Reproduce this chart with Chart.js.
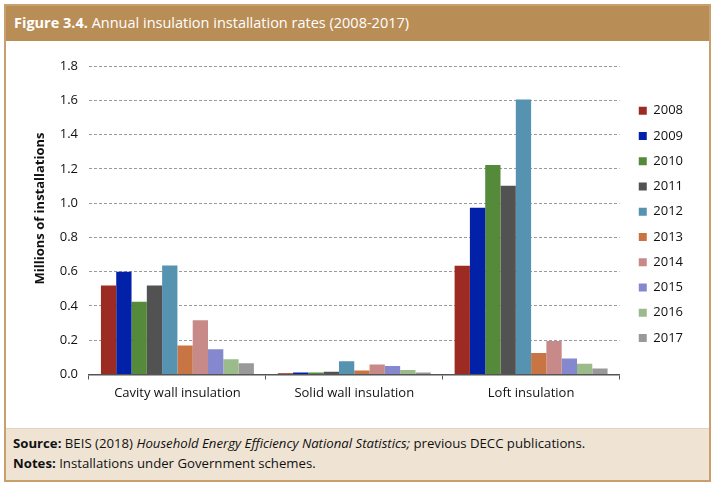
<!DOCTYPE html>
<html>
<head>
<meta charset="utf-8">
<script src="https://cdn.jsdelivr.net/npm/chart.js@4.4.1/dist/chart.umd.min.js"></script>
<style>
  html, body { margin: 0; padding: 0; background: #fff; width: 714px; height: 485px; overflow: hidden; font-family: "Open Sans", sans-serif; }
  #frame { position: absolute; left: 4px; top: 4px; width: 703px; height: 474px; border: 2px solid #C9A06B; background: #fff; }
  #header { position: absolute; left: 0; top: 0; width: 703px; height: 35px; background: #B98D56; color: #fff; font-size: 14.5px; line-height: 34px; padding-left: 8px; box-sizing: border-box; }
  #header b { font-weight: 700; }
  #footer { position: absolute; left: 0; top: 422px; width: 703px; height: 52px; background: #EFE4D4; border-top: 1px solid #E3D3BC; font-size: 13.2px; color: #111; padding: 4px 0 0 7px; box-sizing: border-box; line-height: 20px; }
  #footer b { font-weight: 700; }
  #wrap { position: absolute; left: 8px; top: 46px; width: 700px; height: 356px; }
</style>
</head>
<body>
<div id="frame">
  <div id="header"><b>Figure 3.4.</b> Annual insulation installation rates (2008-2017)</div>
  <div id="footer">
    <div><b>Source:</b> BEIS (2018) <i>Household Energy Efficiency National Statistics;</i> previous DECC publications.</div>
    <div><b>Notes:</b> Installations under Government schemes.</div>
  </div>
</div>
<div id="wrap"><canvas id="c"></canvas></div>
<script>
const categories = ["Cavity wall insulation", "Solid wall insulation", "Loft insulation"];
const years = ["2008", "2009", "2010", "2011", "2012", "2013", "2014", "2015", "2016", "2017"];
const colors = ["#9B2B23", "#0021A8", "#548A3A", "#525252", "#5593B1", "#C97543", "#C78A89", "#8587CF", "#9BBB8A", "#999999"];
const v2008 = [0.52, 0.008, 0.634];
const v2009 = [0.599, 0.012, 0.973];
const v2010 = [0.424, 0.012, 1.222];
const v2011 = [0.52, 0.016, 1.101];
const v2012 = [0.636, 0.078, 1.604];
const v2013 = [0.169, 0.024, 0.126];
const v2014 = [0.317, 0.058, 0.196];
const v2015 = [0.148, 0.049, 0.093];
const v2016 = [0.089, 0.026, 0.062];
const v2017 = [0.066, 0.012, 0.035];
const seriesValues = [v2008, v2009, v2010, v2011, v2012, v2013, v2014, v2015, v2016, v2017];
const yTicks = [0, 0.2, 0.4, 0.6, 0.8, 1.0, 1.2, 1.4, 1.6, 1.8];

const FONT = "'Open Sans', sans-serif";

// nudge the legend box to match the reference placement
const legendNudge = {
  id: 'legendNudge',
  afterLayout(chart) {
    const lg = chart.legend;
    if (!lg) return;
    lg.left += 7; lg.right += 7;
    lg.top += 4; lg.bottom += 4;
  }
};

new Chart(document.getElementById('c'), {
  type: 'bar',
  plugins: [legendNudge],
  data: {
    labels: categories,
    datasets: years.map((y, i) => ({
      label: y,
      data: seriesValues[i],
      backgroundColor: colors[i],
      borderWidth: 0,
      barPercentage: 1.0,
      categoryPercentage: 0.865
    }))
  },
  options: {
    responsive: true,
    maintainAspectRatio: false,
    animation: false,
    layout: { padding: { top: 20, right: 22, left: 0, bottom: 0 } },
    plugins: {
      tooltip: { enabled: false },
      legend: {
        position: 'right',
        fullSize: false,
        labels: {
          boxWidth: 8, boxHeight: 8, padding: 12.25,
          color: '#111',
          font: { family: FONT, size: 13 }
        }
      }
    },
    scales: {
      x: {
        afterFit: s => { s.height = 27.5; },
        grid: { offset: true, drawOnChartArea: false, drawTicks: true, tickLength: 5, color: '#555' },
        border: { display: true, color: '#555', width: 1.5 },
        ticks: { color: '#111', font: { family: FONT, size: 13 }, padding: 6 }
      },
      y: {
        min: 0, max: 1.8,
        afterFit: s => { s.width = 81; },
        afterBuildTicks: s => { s.ticks = yTicks.map(v => ({ value: v })); },
        grid: { color: '#9a9a9a', lineWidth: 1, drawTicks: false },
        border: { display: false, dash: [3, 2] },
        ticks: { color: '#111', font: { family: FONT, size: 13 }, padding: 11, callback: v => v.toFixed(1) },
        title: { display: true, text: '       Millions of installations', color: '#111', font: { family: FONT, size: 13, weight: 'bold' }, padding: { top: 24, bottom: 10 } }
      }
    }
  }
});
</script>
</body>
</html>
